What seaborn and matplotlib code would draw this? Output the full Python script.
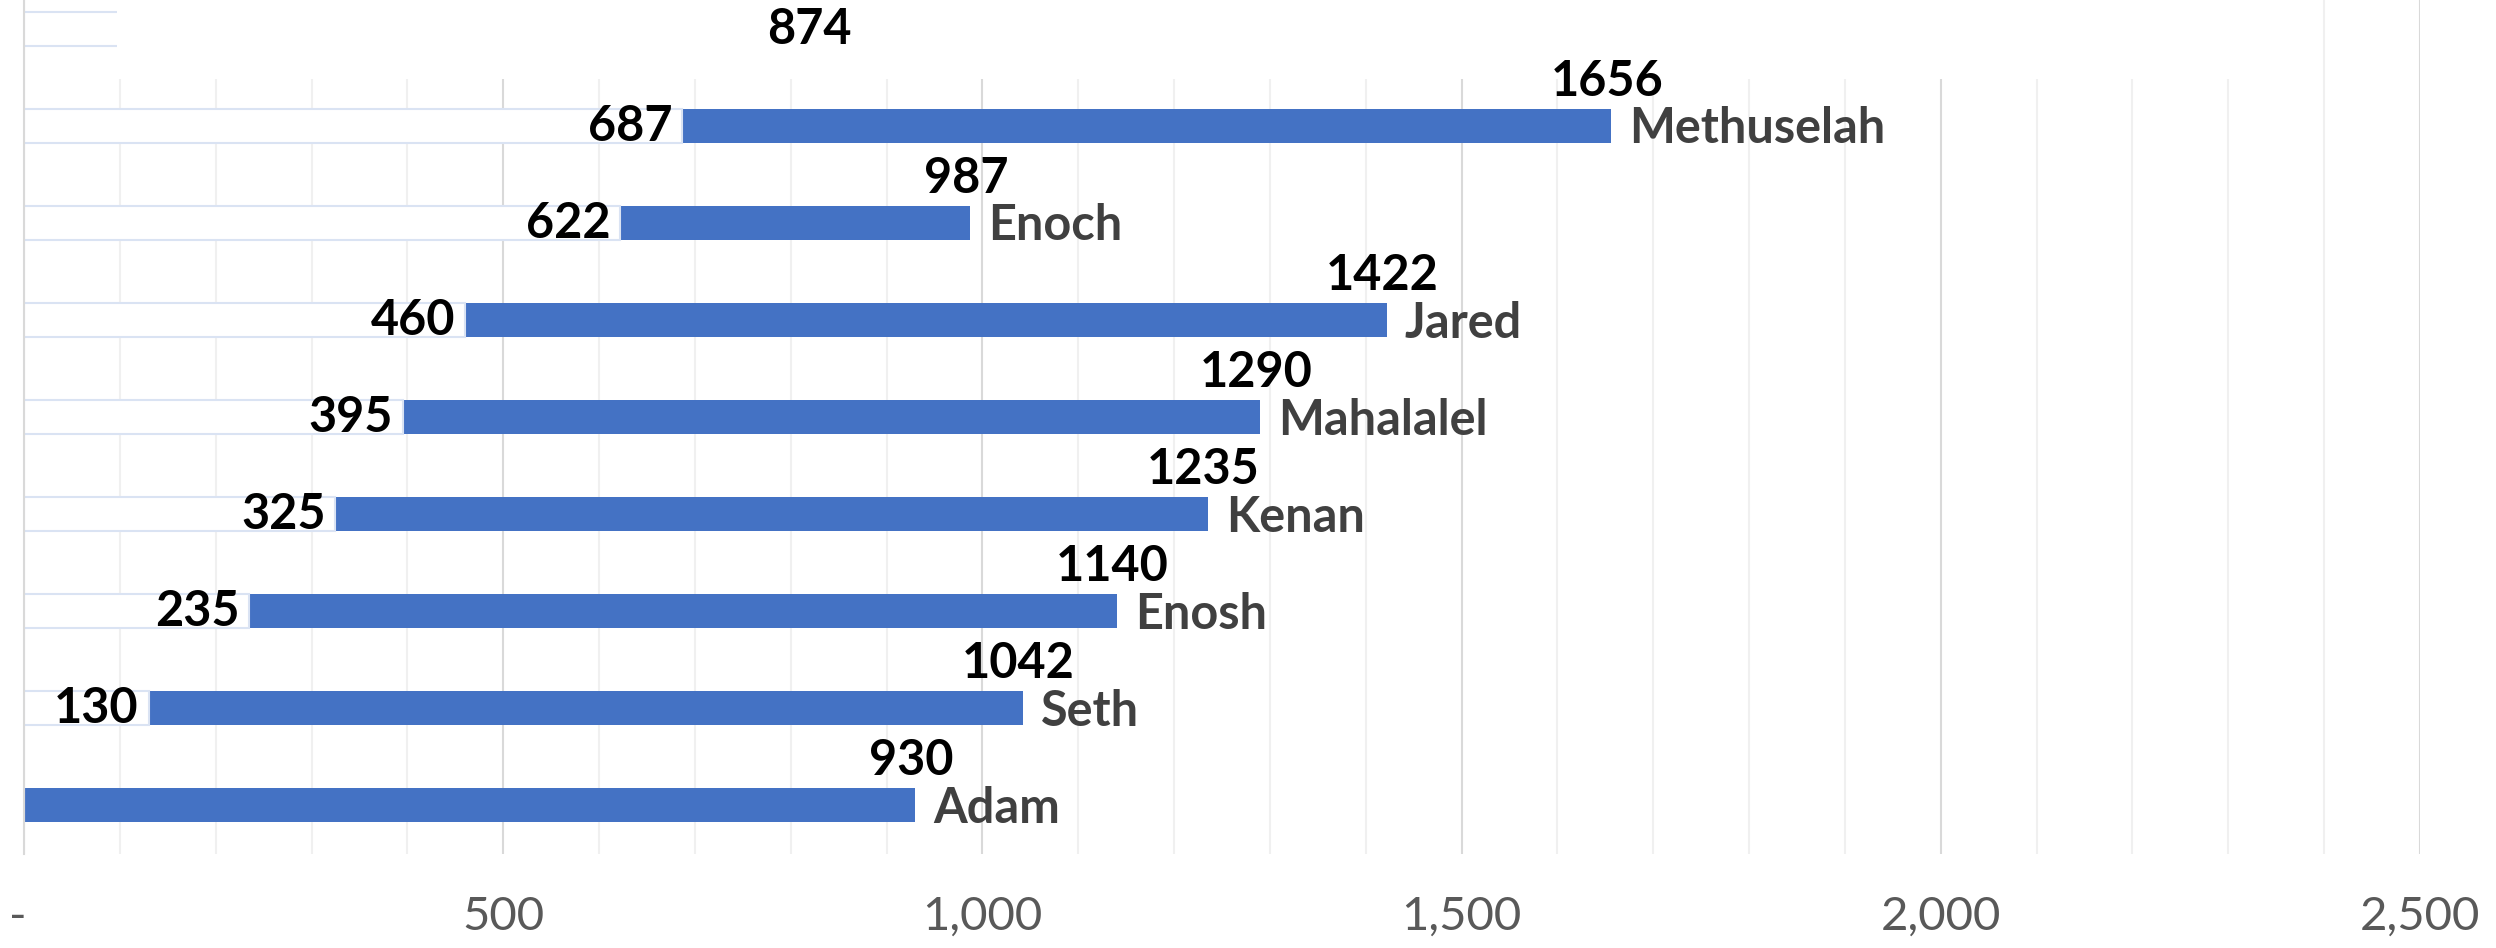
import matplotlib
matplotlib.use("Agg")
import matplotlib.pyplot as plt
from matplotlib.patches import Rectangle
import numpy as np
import pandas as pd
import seaborn as sns

# Patriarchs: year of birth / death (Anno Mundi), top row to bottom row
names = ["Lamech", "Methuselah", "Enoch", "Jared", "Mahalalel", "Kenan", "Enosh", "Seth", "Adam"]
born = [874, 687, 622, 460, 395, 325, 235, 130, 0]
died = [np.nan, 1656, 987, 1422, 1290, 1235, 1140, 1042, 930]
x_ticks = [0, 500, 1000, 1500, 2000, 2500]
x_tick_labels = ["- ", "500", "1,000", "1,500", "2,000", "2,500"]

BLUE = "#4472C4"

df = pd.DataFrame({"name": names, "born": born, "died": died})

sns.set_theme(style="white")
plt.rcParams["font.family"] = ["Lato", "DejaVu Sans"]

fig = plt.figure(figsize=(24.96, 9.48), dpi=100)
ax = fig.add_axes([24 / 2496, 1 - 854 / 948, 2396 / 2496, 854 / 948])

# lifespan bar from 0 to death, then white "offset" bar from 0 to birth on top
sns.barplot(data=df, x="died", y="name", order=names, orient="h", color=BLUE,
            width=0.35, saturation=1, edgecolor="none", ax=ax)
sns.barplot(data=df, x="born", y="name", order=names, orient="h", color="white",
            width=0.35, saturation=1, edgecolor="#dae3f3", linewidth=1.5, ax=ax)

ax.set_xlim(0, 2500)
ax.set_ylim(len(names) - 0.5, -0.3)
ax.set_xticks(x_ticks)
ax.set_xticklabels(x_tick_labels)
ax.set_xticks(np.arange(0, 2501, 100), minor=True)
ax.tick_params(axis="x", which="both", length=0, pad=30, labelsize=34, labelcolor="#595959")
ax.set_yticks([])
ax.set_xlabel("")
ax.set_ylabel("")
ax.set_axisbelow(True)
ax.grid(axis="x", which="major", color="#d9d9d9", linewidth=1.5)
ax.grid(axis="x", which="minor", color="#f0f0f0", linewidth=1.5)
for side in ["top", "right", "bottom"]:
    ax.spines[side].set_visible(False)
ax.spines["left"].set_color("#d9d9d9")
ax.spines["left"].set_linewidth(1.5)

# white box over the top of the plot (covers gridlines there)
ax.add_patch(Rectangle((0.0388, 0.9075), 0.919, 0.1, transform=ax.transAxes,
                       facecolor="white", edgecolor="none", zorder=3, clip_on=False))

for i, (b, d, n) in enumerate(zip(born, died, names)):
    if b > 0:
        ax.annotate(str(b), (b, i), xytext=(-7, 0), textcoords="offset points",
                    ha="right", va="center", fontsize=35, fontweight="bold",
                    color="black", zorder=5)
    if not np.isnan(d):
        ax.annotate(str(int(d)), (d, i), xytext=(-3, 16), textcoords="offset points",
                    ha="center", va="bottom", fontsize=35, fontweight="bold",
                    color="black", zorder=5)
        ax.annotate(n, (d, i), xytext=(13, -2), textcoords="offset points",
                    ha="left", va="center", fontsize=35, fontweight="bold",
                    color="#404040", zorder=5)

fig.savefig("out.png", dpi=100)
